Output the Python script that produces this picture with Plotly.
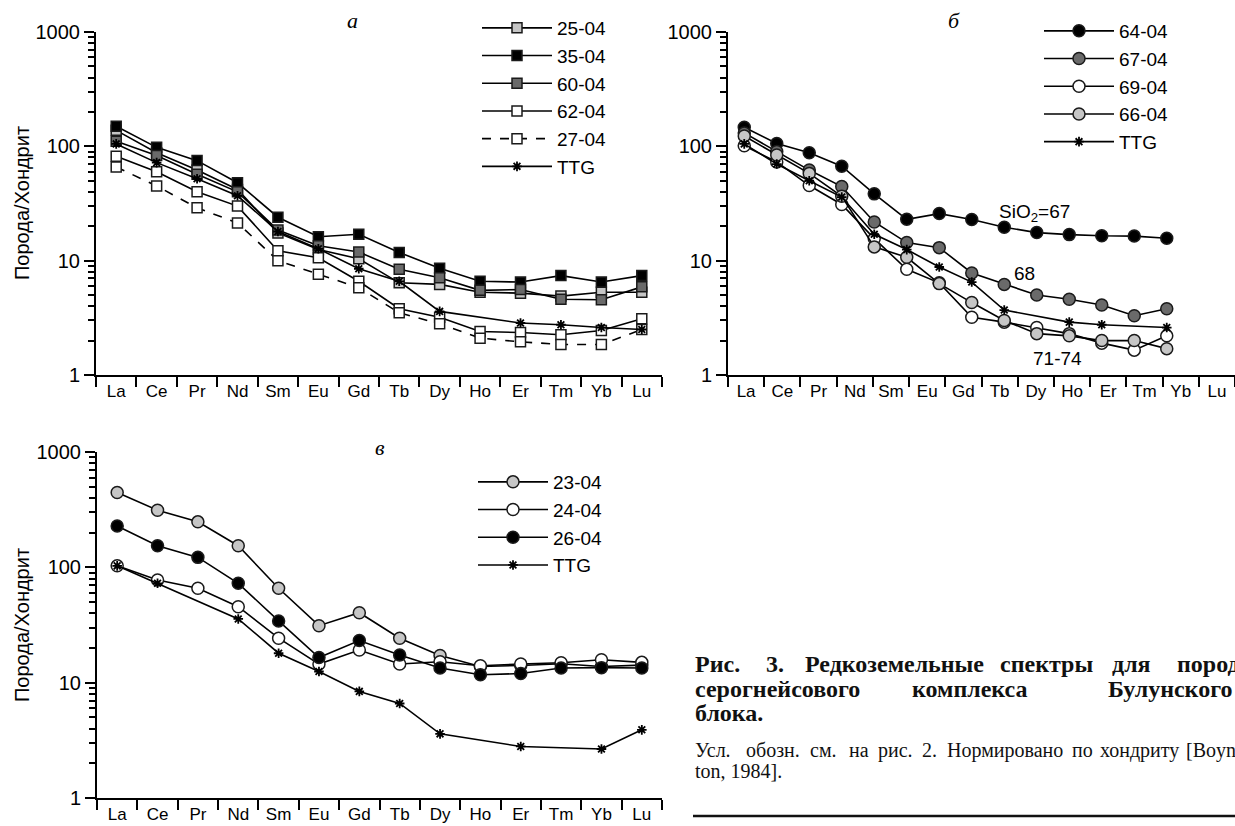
import plotly.graph_objects as go

# Rare earth elements, chondrite-normalised
REE = ["La", "Ce", "Pr", "Nd", "Sm", "Eu", "Gd", "Tb", "Dy", "Ho", "Er", "Tm", "Yb", "Lu"]

# panel а
s25_04 = [138, 88, 62, 42, 17.5, 12.5, 10.4, 6.4, 6.2, 5.3, 5.2, 4.9, 5.3, 5.3]
s35_04 = [150, 98, 75, 48, 24, 16.2, 17, 11.8, 8.6, 6.6, 6.5, 7.4, 6.5, 7.4]
s60_04 = [111, 83, 57, 40, 18.5, 13.5, 11.9, 8.4, 7.1, 5.5, 5.6, 4.6, 4.55, 5.9]
s62_04 = [82, 60, 40, 30, 12.2, 10.6, 6.6, 3.8, 3.2, 2.4, 2.35, 2.25, 2.45, 3.1]
s27_04 = [66, 45, 29, 21.4, 10, 7.6, 5.8, 3.5, 2.8, 2.1, 1.95, 1.85, 1.85, 2.5]
ttg_a = [105, 72, 52, 37, 18, 12.7, 8.5, 6.6, 3.6, None, 2.85, 2.75, 2.6, 2.5]

# panel б
s64_04 = [147, 106, 88, 67, 38.4, 23, 25.8, 22.9, 19.6, 17.6, 16.9, 16.5, 16.4, 15.7]
s67_04 = [131, 90, 62, 44.5, 21.8, 14.4, 13, 7.8, 6.2, 5.0, 4.6, 4.1, 3.3, 3.8]
s69_04 = [101, 73, 45.4, 31, 15.6, 8.4, 6.4, 3.2, 2.9, 2.6, 2.3, 1.9, 1.65, 2.2]
s66_04 = [123, 84, 58, 36.6, 13.2, 10.7, 6.3, 4.3, 3.0, 2.3, 2.2, 2.0, 2.0, 1.7]
ttg_b = [105, 70, 50, 36, 17, 12.5, 8.8, 6.5, 3.7, None, 2.9, 2.75, None, 2.6]

# panel в
s23_04 = [446, 313, 248, 154, 65.8, 31.2, 40.4, 24.3, 17.2, 13.8, 14.1, 14.6, 13.8, 14.2]
s24_04 = [103, 77.6, 65.8, 45.6, 24.3, 14.5, 19.2, 14.5, 15.2, 14.0, 14.5, 14.9, 15.8, 15.0]
s26_04 = [228, 154, 122, 72.7, 34.3, 16.5, 23.2, 17.4, 13.4, 11.7, 12.0, 13.4, 13.5, 13.4]
ttg_c = [103, 72.7, None, 35.7, 18, 12.5, 8.4, 6.6, 3.6, None, 2.8, None, 2.66, 3.9]

Y_TICKS = [1, 10, 100, 1000]
Y_TICKTEXT = ["1", "10", "100", "1000"]
Y_TITLE = "Порода/Хондрит"

W, H = 1235, 826
FONT = "Arial, Liberation Sans, sans-serif"
SERIF = "Times New Roman, Liberation Serif, serif"
LIGHT = "#c6c6c6"
DARK = "#6a6a6a"
EDGE = "#1a1a1a"


def fx(p):
    return p / W


def fy(p):
    return 1 - p / H


fig = go.Figure()


def add_sample(name, values, xa, ya, legend, symbol, fill, dash="solid", size=10):
    fig.add_trace(go.Scatter(
        x=REE, y=values, name=name, mode="lines+markers",
        xaxis=xa, yaxis=ya, legend=legend, connectgaps=True,
        line=dict(color="black", width=1.6, dash=dash),
        marker=dict(symbol=symbol, size=size, color=fill,
                    line=dict(color=EDGE, width=1.5)),
    ))


def add_ttg(values, xa, ya, legend):
    fig.add_trace(go.Scatter(
        x=REE, y=values, name="TTG", mode="lines+markers",
        xaxis=xa, yaxis=ya, legend=legend, connectgaps=True,
        line=dict(color="black", width=1.6),
        marker=dict(symbol="asterisk-open", size=8, color="black",
                    line=dict(color="black", width=1.8)),
    ))


# panel а
add_sample("25-04", s25_04, "x", "y", "legend", "square", LIGHT)
add_sample("35-04", s35_04, "x", "y", "legend", "square", "black")
add_sample("60-04", s60_04, "x", "y", "legend", "square", DARK)
add_sample("62-04", s62_04, "x", "y", "legend", "square", "white")
add_sample("27-04", s27_04, "x", "y", "legend", "square", "white", dash="dash")
add_ttg(ttg_a, "x", "y", "legend")

# panel б
add_sample("64-04", s64_04, "x2", "y2", "legend2", "circle", "black", size=12)
add_sample("67-04", s67_04, "x2", "y2", "legend2", "circle", DARK, size=12)
add_sample("69-04", s69_04, "x2", "y2", "legend2", "circle", "white", size=12)
add_sample("66-04", s66_04, "x2", "y2", "legend2", "circle", LIGHT, size=12)
add_ttg(ttg_b, "x2", "y2", "legend2")
# carrier for the separate label axis of panel б
fig.add_trace(go.Scatter(x=REE, y=ttg_b, xaxis="x4", yaxis="y2", mode="markers",
                         marker=dict(opacity=0), showlegend=False, hoverinfo="skip"))

# panel в
add_sample("23-04", s23_04, "x3", "y3", "legend3", "circle", LIGHT, size=12)
add_sample("24-04", s24_04, "x3", "y3", "legend3", "circle", "white", size=12)
add_sample("26-04", s26_04, "x3", "y3", "legend3", "circle", "black", size=12)
add_ttg(ttg_c, "x3", "y3", "legend3")

minor_vals = [m * 10 ** d for d in range(3) for m in range(2, 10)]


def yaxis(domain, anchor):
    return dict(
        domain=domain, anchor=anchor, type="log", range=[0, 3], automargin=False,
        tickvals=Y_TICKS, ticktext=Y_TICKTEXT, ticks="outside", ticklen=10,
        tickwidth=1.5, tickcolor="black",
        minor=dict(tickvals=minor_vals, ticks="outside", ticklen=6,
                   tickwidth=1.5, tickcolor="black", showgrid=False),
        showline=True, linecolor="black", linewidth=2, showgrid=False,
        zeroline=False, tickfont=dict(family=FONT, size=20, color="black"),
    )


def xaxis(domain, anchor, **kw):
    d = dict(
        domain=domain, anchor=anchor, type="category", automargin=False,
        categoryorder="array", categoryarray=REE, range=[-0.5, 13.5],
        tickson="boundaries", ticks="outside", ticklen=10, tickwidth=1.5,
        tickcolor="black", showline=True, linecolor="black", linewidth=2,
        showgrid=False, zeroline=False,
        tickfont=dict(family=FONT, size=17, color="black"),
    )
    d.update(kw)
    return d


top_dom = [fy(375), fy(32)]
bot_dom = [fy(798), fy(452)]

legend_common = dict(
    font=dict(family=FONT, size=19, color="black"), bgcolor="rgba(0,0,0,0)",
    borderwidth=0, tracegroupgap=0, itemwidth=70, xanchor="left", yanchor="top",
)

fig.update_layout(
    width=W, height=H, margin=dict(l=0, r=0, t=0, b=0, autoexpand=False),
    paper_bgcolor="white", plot_bgcolor="white", showlegend=True,
    xaxis=xaxis([fx(96), fx(662)], "y"),
    yaxis=yaxis(top_dom, "x"),
    xaxis2=xaxis([fx(728), 1.0], "y2", range=[-0.5, 15.1], showticklabels=False,
                 ticks="", showline=False),
    yaxis2=yaxis(top_dom, "x2"),
    xaxis4=xaxis([fx(728), 1.0], "y2", overlaying="x2"),
    xaxis3=xaxis([fx(97), fx(662)], "y3"),
    yaxis3=yaxis(bot_dom, "x3"),
    legend=dict(x=fx(477), y=fy(9), **legend_common),
    legend2=dict(x=fx(1039), y=fy(12), **legend_common),
    legend3=dict(x=fx(473), y=fy(463), **legend_common),
)


def note(text, xp, yp, font, xanchor="left", **kw):
    return dict(text=text, x=fx(xp), y=fy(yp), xref="paper", yref="paper",
                xanchor=xanchor, yanchor="middle", showarrow=False, font=font, **kw)


ann = []
for ycen in (203, 625):
    ann.append(note(Y_TITLE, 22, ycen, dict(family=FONT, size=20, color="black"),
                    xanchor="center", textangle=-90))
for lab, xp, yp in (("а", 352, 20), ("б", 954, 20), ("в", 380, 447)):
    ann.append(note(f"<i>{lab}</i>", xp, yp, dict(family=SERIF, size=22, color="black"),
                    xanchor="center"))
label_font = dict(family=FONT, size=19, color="black")
ann.append(note("SiO<sub>2</sub>=67", 997, 213, label_font))
ann.append(note("68", 1012, 273, label_font))
ann.append(note("71-74", 1031, 358, label_font))

# caption (justified column, cut by the right page edge)
cap_bold = dict(family=SERIF, size=24, color="#111111")
for txt, xp, yp in (("Рис.", 693, 664), ("3.", 764, 664), ("Редкоземельные", 803, 664),
                    ("спектры", 998, 664), ("для", 1110, 664), ("пород", 1175, 664),
                    ("серогнейсового", 693, 689), ("комплекса", 910, 689),
                    ("Булунского", 1106, 689),
                    ("блока.", 693, 713)):
    ann.append(note(f"<b>{txt}</b>", xp, yp, cap_bold))
cap_small = dict(family=SERIF, size=20, color="#111111")
for txt, xp in (("Усл.", 693), ("обозн.", 744), ("см.", 808), ("на", 847),
                ("рис.", 876), ("2.", 920), ("Нормировано", 945), ("по", 1070),
                ("хондриту", 1098), ("[Boyn-", 1184)):
    ann.append(note(txt, xp, 750, cap_small))
ann.append(note("ton, 1984].", 693, 771, cap_small))

fig.update_layout(annotations=ann)
fig.add_shape(type="line", xref="paper", yref="paper", x0=fx(693), x1=1.0,
              y0=fy(816), y1=fy(816), line=dict(color="#111111", width=2.5))

fig.write_html("out.html")
